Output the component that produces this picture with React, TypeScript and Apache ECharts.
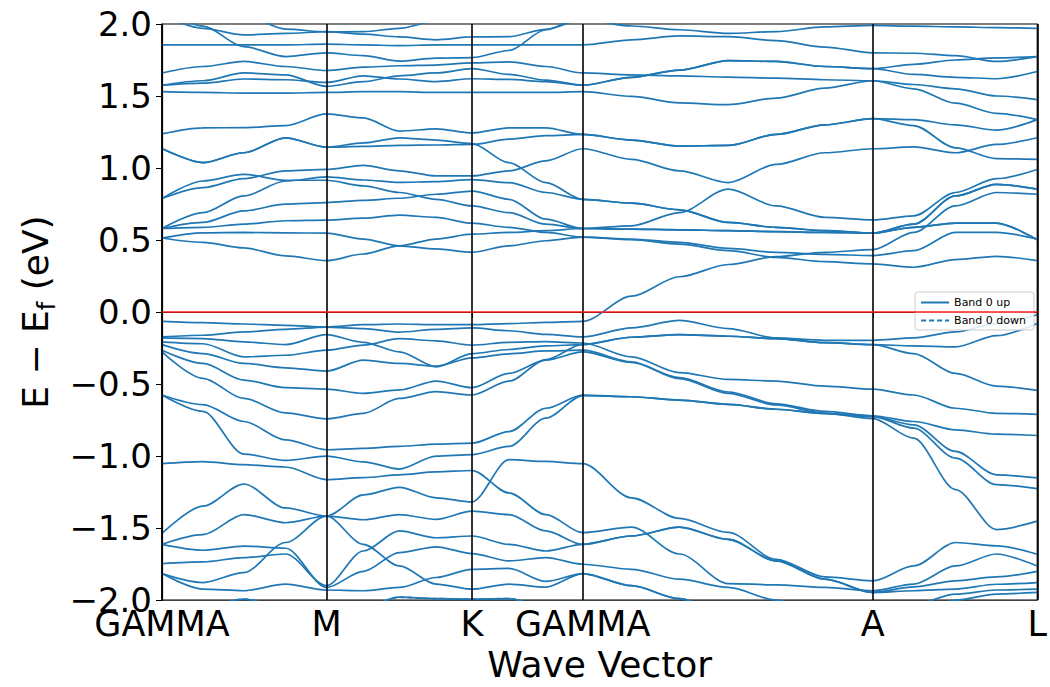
import React, { useEffect, useRef } from "react";
import * as echarts from "echarts";

// k-path sample positions (cumulative distance along the path)
const K = [0, 41, 82, 124, 165, 202, 238, 275, 311, 348, 385, 422, 471, 519, 568, 616, 665, 713, 754, 796, 837, 878];
const HS_K = [0, 165, 311, 422, 713, 878];
const HS_LABELS = ["GAMMA", "M", "K", "GAMMA", "A", "L"];
const Y_TICKS_MIN = -2;
const Y_TICKS_MAX = 2;

// band energies (eV, relative to Ef) at each K sample
const U0 = [2.3, 2.2, 2.06, 1.965, 1.945, 1.947, 1.97, 2.02, 2.06, 2.15, 2.2, 2.2, 2.2, 2.2, 2.2, 2.2, 2.2, 2.2, 2.2, 2.2, 2.2, 2.2];
const U1 = [2.06, 1.97, 1.924, 1.935, 1.947, 1.93, 1.91, 1.89, 1.91, 1.912, 1.963, 2.03, 1.986, 1.96, 1.935, 1.947, 1.98, 1.99, 1.985, 1.98, 1.975, 1.97];
const U2 = [2.12, 1.985, 1.843, 1.774, 1.8, 1.78, 1.742, 1.763, 1.767, 1.816, 1.96, 2.05, 2.15, 2.2, 2.2, 2.2, 2.2, 2.2, 2.2, 2.2, 2.2, 2.2];
const U3 = [1.855, 1.855, 1.855, 1.855, 1.86, 1.855, 1.85, 1.855, 1.855, 1.855, 1.855, 1.855, 1.89, 1.917, 1.912, 1.885, 1.84, 1.8, 1.797, 1.78, 1.74, 1.774];
const U4 = [1.66, 1.705, 1.74, 1.705, 1.677, 1.7, 1.71, 1.715, 1.73, 1.737, 1.705, 1.66, 1.647, 1.64, 1.631, 1.624, 1.613, 1.606, 1.58, 1.55, 1.5, 1.475];
const U5 = [1.575, 1.606, 1.66, 1.647, 1.567, 1.6, 1.64, 1.66, 1.69, 1.65, 1.61, 1.575, 1.63, 1.68, 1.746, 1.74, 1.705, 1.69, 1.72, 1.75, 1.765, 1.774];
const U6 = [1.575, 1.59, 1.618, 1.613, 1.594, 1.64, 1.618, 1.6, 1.62, 1.615, 1.6, 1.575, 1.63, 1.68, 1.746, 1.74, 1.705, 1.69, 1.65, 1.63, 1.62, 1.67];
const U7 = [1.53, 1.525, 1.52, 1.52, 1.525, 1.53, 1.53, 1.525, 1.525, 1.525, 1.525, 1.53, 1.498, 1.452, 1.44, 1.486, 1.555, 1.606, 1.55, 1.45, 1.38, 1.336];
const U8 = [1.237, 1.279, 1.28, 1.295, 1.376, 1.348, 1.256, 1.272, 1.244, 1.279, 1.279, 1.233, 1.194, 1.152, 1.157, 1.233, 1.3, 1.343, 1.336, 1.3, 1.263, 1.336];
const U9 = [1.136, 1.037, 1.106, 1.21, 1.145, 1.175, 1.21, 1.194, 1.17, 1.037, 0.899, 0.783, 0.756, 0.71, 0.622, 0.588, 0.565, 0.548, 0.61, 0.806, 0.887, 0.853];
const U10 = [1.136, 1.037, 1.106, 1.21, 1.145, 1.15, 1.157, 1.16, 1.164, 1.2, 1.225, 1.233, 1.194, 1.152, 1.157, 1.233, 1.3, 1.343, 1.295, 1.14, 1.065, 1.06];
const V1 = [0.788, 0.91, 0.956, 0.915, 0.915, 0.876, 0.83, 0.783, 0.737, 0.69, 0.61, 0.58, 0.576, 0.571, 0.565, 0.558, 0.553, 0.548, 0.588, 0.618, 0.618, 0.502];
const V2 = [0.788, 0.864, 0.926, 0.98, 0.99, 1.018, 0.98, 0.945, 0.945, 0.98, 1.05, 1.134, 1.06, 0.98, 0.899, 1.025, 1.106, 1.134, 1.147, 1.106, 1.164, 1.21];
const V3 = [0.58, 0.69, 0.806, 0.91, 0.938, 0.917, 0.9, 0.906, 0.92, 0.899, 0.83, 0.783, 0.756, 0.71, 0.622, 0.588, 0.565, 0.548, 0.61, 0.806, 0.887, 0.853];
const V4 = [0.58, 0.622, 0.703, 0.749, 0.76, 0.776, 0.79, 0.818, 0.84, 0.783, 0.645, 0.58, 0.599, 0.691, 0.853, 0.737, 0.657, 0.64, 0.668, 0.83, 0.926, 0.99];
const V5 = [0.58, 0.588, 0.61, 0.634, 0.638, 0.652, 0.673, 0.657, 0.617, 0.588, 0.553, 0.52, 0.507, 0.484, 0.442, 0.415, 0.4, 0.392, 0.426, 0.553, 0.553, 0.507];
const V6 = [0.514, 0.55, 0.553, 0.55, 0.548, 0.507, 0.46, 0.507, 0.541, 0.553, 0.565, 0.58, 0.576, 0.571, 0.565, 0.558, 0.553, 0.548, 0.588, 0.618, 0.618, 0.502];
const V7 = [0.514, 0.484, 0.445, 0.39, 0.357, 0.403, 0.46, 0.438, 0.415, 0.46, 0.495, 0.52, 0.502, 0.472, 0.426, 0.38, 0.35, 0.334, 0.311, 0.364, 0.387, 0.357];
const L1 = [-0.065, -0.074, -0.083, -0.092, -0.104, -0.088, -0.083, -0.088, -0.088, -0.08, -0.072, -0.065, 0.11, 0.245, 0.33, 0.385, 0.415, 0.433, 0.553, 0.737, 0.83, 0.818];
const L2 = [-0.173, -0.161, -0.138, -0.12, -0.104, -0.115, -0.14, -0.12, -0.11, -0.13, -0.155, -0.173, -0.11, -0.058, -0.115, -0.18, -0.196, -0.196, -0.18, -0.138, -0.08, -0.018];
const L3 = [-0.18, -0.184, -0.207, -0.226, -0.157, -0.21, -0.276, -0.38, -0.288, -0.26, -0.235, -0.226, -0.175, -0.157, -0.168, -0.184, -0.212, -0.226, -0.235, -0.242, -0.164, -0.08];
const L4 = [-0.207, -0.22, -0.311, -0.3, -0.265, -0.23, -0.185, -0.2, -0.23, -0.21, -0.205, -0.215, -0.311, -0.42, -0.468, -0.479, -0.514, -0.535, -0.576, -0.668, -0.703, -0.71];
const L5 = [-0.226, -0.288, -0.357, -0.387, -0.41, -0.334, -0.357, -0.376, -0.318, -0.29, -0.27, -0.265, -0.346, -0.463, -0.565, -0.645, -0.703, -0.74, -0.876, -1.233, -1.51, -1.452];
const L6 = [-0.265, -0.357, -0.472, -0.525, -0.535, -0.565, -0.541, -0.479, -0.525, -0.426, -0.334, -0.276, -0.35, -0.455, -0.555, -0.637, -0.69, -0.72, -0.76, -0.818, -0.848, -0.857];
const L16 = [-0.276, -0.46, -0.6, -0.7, -0.742, -0.703, -0.6, -0.553, -0.576, -0.48, -0.33, -0.225, -0.175, -0.157, -0.168, -0.184, -0.212, -0.226, -0.288, -0.426, -0.514, -0.544];
const L7 = [-0.576, -0.643, -0.76, -0.887, -0.956, -0.947, -0.933, -0.917, -0.91, -0.83, -0.668, -0.576, -0.588, -0.611, -0.641, -0.675, -0.703, -0.726, -0.783, -0.968, -1.13, -1.152];
const L8 = [-0.576, -0.69, -0.986, -1.03, -1.0, -1.04, -1.09, -1.0, -0.99, -0.933, -0.737, -0.58, -0.588, -0.611, -0.641, -0.675, -0.703, -0.726, -0.806, -1.014, -1.198, -1.226];
const L9 = [-1.053, -1.039, -1.06, -1.076, -1.163, -1.15, -1.13, -1.11, -1.1, -1.256, -1.406, -1.532, -1.493, -1.68, -1.885, -1.894, -1.912, -1.935, -1.889, -1.763, -1.68, -1.763];
const L10 = [-1.537, -1.348, -1.194, -1.36, -1.417, -1.27, -1.217, -1.29, -1.318, -1.025, -1.037, -1.053, -1.29, -1.433, -1.53, -1.717, -1.839, -1.866, -1.763, -1.6, -1.624, -1.682];
const L11A = [-1.613, -1.546, -1.406, -1.463, -1.417, -1.442, -1.406, -1.44, -1.382, -1.406, -1.52, -1.613, -1.555, -1.493, -1.578, -1.728, -1.855, -1.947, -1.908, -1.866, -1.839, -1.8];
const L11B = [-1.613, -1.654, -1.625, -1.64, -1.912, -1.8, -1.67, -1.63, -1.677, -1.728, -1.705, -1.751, -1.786, -1.855, -1.912, -2.0, -2.1, -2.15, -2.03, -1.958, -1.93, -1.924];
const L12 = [-1.747, -1.735, -1.705, -1.68, -1.9, -1.659, -1.52, -1.567, -1.555, -1.613, -1.659, -1.613, -1.555, -1.493, -1.578, -1.728, -1.855, -1.947, -1.935, -1.924, -1.89, -1.878];
const L13 = [-1.816, -1.878, -1.809, -1.6, -1.417, -1.613, -1.763, -1.889, -1.924, -1.889, -1.91, -1.816, -1.9, -1.99, -2.1, -2.2, -2.2, -2.2, -2.2, -2.2, -2.2, -2.2];
const L14 = [-1.816, -1.924, -1.935, -1.889, -1.93, -1.935, -1.912, -1.843, -1.786, -1.78, -1.87, -1.816, -1.9, -1.99, -2.1, -2.1, -2.1, -2.1, -2.1, -2.0, -1.958, -1.947];
const L15 = [-2.2, -2.05, -1.993, -2.05, -2.1, -2.05, -1.98, -1.99, -1.993, -1.99, -2.05, -2.1, -2.2, -2.2, -2.2, -2.2, -2.2, -2.2, -2.2, -2.2, -2.2, -2.2];

const BANDS_UP = [L15, L14, L13, L12, L11B, L11A, L10, L9, L8, L7, L16, L6, L5, L4, L3, L2, L1,
  V7, V6, V5, V4, V3, V2, V1, U10, U9, U8, U7, U6, U5, U4, U3, U2, U1, U0];
const BAND_DOWN = L15;

const BLUE = "#1f77b4";
const FONT = "DejaVu Sans";

const fmtY = (v: number) => {
  const s = Math.abs(v).toFixed(1);
  return v < 0 ? "\u2212" + s : s;
};

export default function App() {
  const ref = useRef<HTMLDivElement>(null);
  useEffect(() => {
    if (!ref.current) return;
    const chart = echarts.init(ref.current, undefined, { renderer: "svg" });
    const toData = (vals: number[]) => K.map((k, i) => [k, vals[i]]);
    const series: any[] = BANDS_UP.map((b) => ({
      name: "Band 0 up",
      type: "line",
      data: toData(b),
      symbol: "none",
      smooth: 0.3,
      smoothMonotone: "x",
      clip: true,
      silent: true,
      lineStyle: { color: BLUE, width: 1.7, type: "solid" },
      itemStyle: { color: BLUE, opacity: 0 },
      z: 2,
    }));
    series.push({
      name: "Band 0 down",
      type: "line",
      data: toData(BAND_DOWN),
      symbol: "none",
      smooth: 0.3,
      smoothMonotone: "x",
      clip: true,
      silent: true,
      lineStyle: { color: BLUE, width: 1.7, type: [5, 3] },
      itemStyle: { color: BLUE, opacity: 0 },
      z: 2,
      markLine: {
        silent: true,
        symbol: ["none", "none"],
        label: { show: false },
        z: 5,
        data: [
          ...HS_K.map((k) => ({ xAxis: k, lineStyle: { color: "#000", width: 1.6, type: "solid" } })),
          { yAxis: 0, lineStyle: { color: "#ff2020", width: 1.6, type: "solid" } },
        ],
      },
    });

    chart.setOption({
      animation: false,
      textStyle: { fontFamily: FONT },
      grid: { left: 162, right: 10, top: 24, bottom: 85, show: true, borderColor: "#000", borderWidth: 1.2 },
      legend: {
        data: ["Band 0 up", "Band 0 down"],
        orient: "vertical",
        right: 16,
        top: 292,
        backgroundColor: "rgba(255,255,255,0.85)",
        borderColor: "#cccccc",
        borderWidth: 1,
        borderRadius: 3,
        padding: [5, 8, 4, 5],
        itemGap: 7,
        itemWidth: 28,
        itemHeight: 10,
        itemStyle: { opacity: 0 },
        lineStyle: { width: 2 },
        textStyle: { fontSize: 11, color: "#000", fontFamily: FONT },
      },
      xAxis: {
        type: "value",
        min: 0,
        max: 878,
        axisLine: { show: true, lineStyle: { color: "#000", width: 1.2 } },
        axisTick: { show: true, customValues: HS_K, length: 6, lineStyle: { color: "#000" } },
        axisLabel: {
          customValues: HS_K,
          formatter: (v: number) => HS_LABELS[HS_K.indexOf(v)] ?? "",
          fontSize: 35,
          color: "#000",
          margin: 6,
          fontFamily: FONT,
        },
        splitLine: { show: false },
        name: "Wave Vector",
        nameLocation: "middle",
        nameGap: 45,
        nameTextStyle: { fontSize: 36, color: "#000", fontFamily: FONT },
      },
      yAxis: {
        type: "value",
        min: Y_TICKS_MIN,
        max: Y_TICKS_MAX,
        interval: 0.5,
        axisLine: { show: true, lineStyle: { color: "#000", width: 1.2 } },
        axisTick: { show: true, length: 6, lineStyle: { color: "#000" } },
        axisLabel: { formatter: fmtY, fontSize: 34, color: "#000", margin: 10, fontFamily: FONT },
        splitLine: { show: false },
        name: "{m|E \u2212 E}{s|f}{m| (eV)}",
        nameLocation: "middle",
        nameRotate: 90,
        nameGap: 100,
        nameTextStyle: {
          color: "#000",
          fontFamily: FONT,
          rich: {
            m: { fontSize: 36, lineHeight: 46, verticalAlign: "middle", color: "#000", fontFamily: FONT },
            s: { fontSize: 24, lineHeight: 24, verticalAlign: "bottom", color: "#000", fontFamily: FONT },
          },
        },
      },
      series,
    });
    return () => chart.dispose();
  }, []);
  return (
    <div
      ref={ref}
      style={{ position: "fixed", left: 0, top: 0, width: 1050, height: 687, background: "#fff" }}
    />
  );
}
